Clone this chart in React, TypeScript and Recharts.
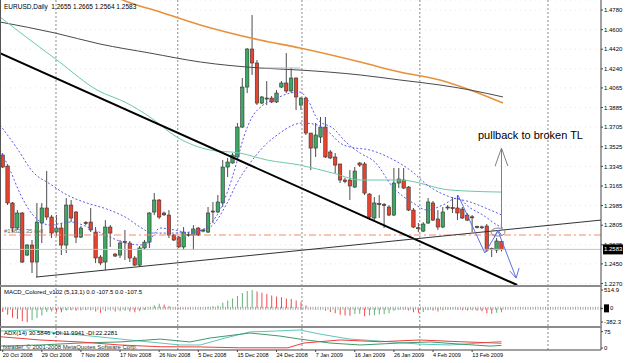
import React from 'react';
import { ComposedChart, Bar, Line, XAxis, YAxis, CartesianGrid, ReferenceLine, ReferenceDot, Cell } from 'recharts';

const FONT = '"Liberation Sans", Arial, sans-serif';

// daily candles, index 0 = 20 Oct 2008
const opens = [1.3449, 1.3348, 1.3009, 1.2779, 1.2917, 1.2531, 1.2623, 1.2467, 1.2825, 1.2963, 1.2880, 1.2742, 1.2779, 1.2623, 1.2990, 1.2926, 1.2696, 1.2830, 1.2834, 1.2742, 1.2513, 1.2467, 1.2788, 1.2540, 1.2531, 1.2655, 1.2641, 1.2504, 1.2439, 1.2596, 1.2650, 1.2926, 1.3036, 1.2917, 1.2898, 1.2715, 1.2696, 1.2605, 1.2720, 1.2715, 1.2779, 1.2751, 1.2742, 1.2935, 1.2926, 1.3009, 1.3339, 1.3376, 1.3431, 1.3706, 1.4073, 1.4422, 1.4294, 1.3926, 1.3963, 1.3972, 1.3936, 1.4073, 1.4110, 1.4037, 1.4156, 1.3908, 1.3972, 1.3651, 1.3513, 1.3614, 1.3706, 1.3477, 1.3431, 1.3367, 1.3220, 1.3220, 1.3155, 1.3376, 1.3367, 1.3091, 1.2871, 1.3005, 1.2995, 1.2972, 1.2898, 1.3192, 1.3220, 1.3155, 1.2944, 1.2782, 1.2751, 1.2825, 1.3009, 1.2862, 1.2788, 1.2972, 1.2966, 1.2963, 1.2953, 1.2898, 1.2882, 1.2792, 1.2790, 1.2797, 1.2580, 1.2577, 1.2655];
const highs = [1.3467, 1.3367, 1.3018, 1.2944, 1.2926, 1.2632, 1.2669, 1.3009, 1.3009, 1.3302, 1.2898, 1.2898, 1.2825, 1.3054, 1.3036, 1.2935, 1.2797, 1.2843, 1.2963, 1.2788, 1.2531, 1.2852, 1.2806, 1.2549, 1.2669, 1.2761, 1.2660, 1.2522, 1.2614, 1.2669, 1.2925, 1.3100, 1.3045, 1.2930, 1.2944, 1.2724, 1.2706, 1.2788, 1.2742, 1.2806, 1.2788, 1.2770, 1.2972, 1.3018, 1.3082, 1.3403, 1.3422, 1.3467, 1.3743, 1.4156, 1.4431, 1.4734, 1.4321, 1.3991, 1.4128, 1.3991, 1.4046, 1.4128, 1.4385, 1.4248, 1.4160, 1.3982, 1.3982, 1.3651, 1.3743, 1.3798, 1.3798, 1.3495, 1.3467, 1.3367, 1.3240, 1.3311, 1.3339, 1.3385, 1.3385, 1.3100, 1.3063, 1.3082, 1.3009, 1.2990, 1.3330, 1.3330, 1.3330, 1.3165, 1.2963, 1.2825, 1.2834, 1.3054, 1.3027, 1.2944, 1.2972, 1.2990, 1.3063, 1.3082, 1.2972, 1.2917, 1.2898, 1.2800, 1.2800, 1.2816, 1.2600, 1.2688, 1.2665];
const lows = [1.3330, 1.2990, 1.2742, 1.2761, 1.2458, 1.2522, 1.2366, 1.2329, 1.2641, 1.2852, 1.2687, 1.2706, 1.2531, 1.2549, 1.2834, 1.2641, 1.2687, 1.2806, 1.2742, 1.2458, 1.2439, 1.2393, 1.2605, 1.2513, 1.2504, 1.2485, 1.2467, 1.2430, 1.2430, 1.2577, 1.2596, 1.2898, 1.2862, 1.2890, 1.2687, 1.2660, 1.2596, 1.2577, 1.2700, 1.2577, 1.2706, 1.2740, 1.2733, 1.2825, 1.2917, 1.2972, 1.3247, 1.3370, 1.3425, 1.3697, 1.4018, 1.4184, 1.3908, 1.3917, 1.3908, 1.3926, 1.3926, 1.4064, 1.4018, 1.4018, 1.3862, 1.3862, 1.3633, 1.3311, 1.3431, 1.3559, 1.3422, 1.3413, 1.3284, 1.3192, 1.3190, 1.3036, 1.3146, 1.3340, 1.3082, 1.2852, 1.2852, 1.2871, 1.2779, 1.2889, 1.2889, 1.3146, 1.3137, 1.2935, 1.2779, 1.2742, 1.2742, 1.2816, 1.2843, 1.2761, 1.2779, 1.2944, 1.2917, 1.2852, 1.2862, 1.2843, 1.2742, 1.2775, 1.2770, 1.2559, 1.2513, 1.2549, 1.2564];
const closes = [1.3339, 1.3009, 1.2779, 1.2917, 1.2467, 1.2623, 1.2467, 1.2834, 1.2963, 1.2880, 1.2733, 1.2779, 1.2623, 1.2990, 1.2871, 1.2696, 1.2779, 1.2820, 1.2761, 1.2504, 1.2458, 1.2788, 1.2733, 1.2522, 1.2641, 1.2645, 1.2504, 1.2439, 1.2596, 1.2650, 1.2917, 1.3036, 1.2880, 1.2900, 1.2715, 1.2669, 1.2605, 1.2742, 1.2712, 1.2770, 1.2715, 1.2761, 1.2917, 1.2926, 1.3018, 1.3339, 1.3385, 1.3449, 1.3706, 1.4073, 1.4422, 1.4294, 1.3926, 1.3982, 1.3972, 1.3936, 1.4018, 1.4110, 1.4037, 1.4156, 1.3982, 1.3972, 1.3651, 1.3513, 1.3633, 1.3706, 1.3431, 1.3422, 1.3357, 1.3220, 1.3205, 1.3165, 1.3302, 1.3357, 1.3100, 1.2880, 1.3009, 1.2995, 1.2990, 1.2898, 1.3192, 1.3229, 1.3146, 1.2944, 1.2788, 1.2776, 1.2816, 1.3018, 1.2852, 1.2788, 1.2926, 1.2963, 1.2960, 1.2917, 1.2871, 1.2852, 1.2878, 1.2785, 1.2786, 1.2577, 1.2590, 1.2660, 1.2583];

// MACD_Colored histogram, one value per candle
const macd = [-100, -180, -260, -300, -360, -390, -330, -270, -200, -100, -90, -95, -110, -60, -50, -70, -60, -50, -55, -90, -120, -80, -60, -90, -80, -70, -90, -110, -80, -40, 20, 90, 130, 110, 60, 20, -20, -10, -15, 0, -5, 0, 40, 60, 80, 160, 220, 280, 350, 430, 490, 515, 470, 440, 400, 360, 330, 310, 280, 260, 220, 180, 80, -10, -30, -30, -70, -100, -140, -180, -200, -210, -160, -150, -220, -200, -190, -170, -160, -140, -70, -40, -30, -60, -110, -120, -100, -50, -60, -90, -50, -30, -20, -30, -50, -60, -50, -70, -80, -140, -150, -120, -107.5];

// indicator lines read as [bar index, value]
const ma200 = [[19.9, 1.4964], [25.6, 1.4854], [32.2, 1.4762], [40.4, 1.4643], [52.6, 1.4505], [60.8, 1.4431], [73.1, 1.4303], [81.2, 1.4211], [89.4, 1.4138], [95.6, 1.4046], [102.3, 1.3926]];
const ma100 = [[-0.55, 1.4670], [10.7, 1.4569], [19.9, 1.4468], [30.1, 1.4385], [40.4, 1.4303], [52.6, 1.4248], [60.8, 1.4229], [73.1, 1.4184], [81.2, 1.4138], [89.4, 1.4092], [95.6, 1.4046], [102.3, 1.3982]];
const ma50 = [[-0.55, 1.4716], [5.6, 1.4505], [11.1, 1.4321], [19.3, 1.4046], [25.4, 1.3926], [30.1, 1.3798], [35.6, 1.3614], [42.4, 1.3495], [48.5, 1.3467], [54.1, 1.3403], [60.8, 1.3357], [67.5, 1.3284], [73.1, 1.3220], [81.2, 1.3220], [91.5, 1.3128], [102.1, 1.3109]];
const maSlow = [[-0.55, 1.3725], [2.9, 1.3513], [6.2, 1.3293], [9.7, 1.3183], [13.2, 1.3082], [17.2, 1.3009], [21.3, 1.2953], [25.4, 1.2871], [28.1, 1.2788], [30.7, 1.2733], [34.8, 1.2733], [38.3, 1.2742], [42.4, 1.2788], [45.9, 1.3009], [47.9, 1.3192], [50.6, 1.3376], [54.1, 1.3559], [56.7, 1.3651], [59.4, 1.3725], [61.4, 1.3743], [64.3, 1.3725], [66.9, 1.3651], [69.0, 1.3559], [71.0, 1.3523], [75.1, 1.3495], [79.2, 1.3422], [83.3, 1.3311], [87.4, 1.3155], [91.5, 1.3064], [95.6, 1.3018], [99.7, 1.2944], [102.1, 1.2898]];
const maFast = [[-0.55, 1.3495], [1.5, 1.3311], [3.5, 1.3100], [6.2, 1.2898], [9.7, 1.2807], [13.8, 1.2834], [17.9, 1.2779], [21.9, 1.2696], [26.0, 1.2632], [29.1, 1.2623], [32.2, 1.2779], [35.2, 1.2761], [38.3, 1.2733], [41.4, 1.2779], [44.4, 1.2944], [46.1, 1.3128], [47.7, 1.3357], [49.3, 1.3614], [51.0, 1.3798], [53.0, 1.3899], [55.7, 1.3963], [58.8, 1.4018], [60.8, 1.4027], [62.4, 1.3954], [64.5, 1.3770], [67.5, 1.3697], [70.4, 1.3559], [73.1, 1.3467], [76.1, 1.3385], [79.8, 1.3155], [83.9, 1.3009], [86.8, 1.2944], [90.0, 1.2990], [92.9, 1.3054], [95.6, 1.2963], [98.2, 1.2898], [101.1, 1.2807], [102.3, 1.2779]];

// drawn objects
const trendDown = [[-0.55, 1.4385], [105.2, 1.2256]];
const trendUp = [[6.8, 1.2329], [122.35, 1.2852]];
const zigzag = [[93.1, 1.3082], [98.6, 1.2550], [101.3, 1.2751], [105.0, 1.2320]];
const zigHeadEnd = [[103.7, 1.2384], [105.0, 1.2320], [105.6, 1.2412]];
const zigHeadMid = [[100.5, 1.2696], [101.3, 1.2761], [102.1, 1.2706]];
const upArrow = [[102.0, 1.2779], [102.0, 1.3513]];
const upHead = [[100.7, 1.3348], [102.0, 1.3513], [103.3, 1.3348]];
const grayHoriz = [[53.5, 1.4248], [60.8, 1.4248]];

// ADX(14)
const adx = [[-0.55, 78], [5.6, 83], [11.7, 69], [19.9, 51], [28.1, 32], [36.3, 14], [40.4, 14], [45.5, 46], [50.6, 74], [55.7, 78], [60.8, 83], [64.9, 64], [71.0, 41], [77.2, 32], [85.3, 18], [91.5, 14], [97.6, 23], [102.0, 30.58]];
const plusDI = [[-0.55, 9], [7.6, 14], [15.8, 23], [24.0, 28], [32.2, 41], [38.3, 28], [42.4, 46], [50.6, 69], [56.7, 55], [60.8, 41], [66.9, 23], [73.1, 14], [81.2, 23], [87.4, 28], [93.5, 18], [99.7, 9], [102.0, 11.99]];
const minusDI = [[-0.55, 52], [7.6, 37], [15.8, 28], [24.0, 14], [32.2, 6], [40.4, 5], [48.5, 1], [58.3, 1], [61.6, 23], [69.0, 37], [77.2, 29], [85.3, 37], [93.5, 29], [102.0, 22.23]];

const priceTicks = [1.478, 1.46, 1.442, 1.424, 1.4065, 1.3885, 1.3705, 1.3525, 1.3345, 1.3165, 1.2985, 1.2805, 1.2625, 1.245, 1.227];
const dateTicks = [0, 8, 16, 24, 32, 40, 48, 56, 64, 72, 80, 88, 96];
const dateLabels = ['20 Oct 2008', '29 Oct 2008', '7 Nov 2008', '17 Nov 2008', '26 Nov 2008', '5 Dec 2008', '15 Dec 2008', '24 Dec 2008', '7 Jan 2009', '16 Jan 2009', '26 Jan 2009', '4 Feb 2009', '13 Feb 2009'];
const gridBars = [10.9, 35.8, 61.2, 85.3, 111.5];

const X_DOMAIN: [number, number] = [-0.55, 122.35];
const W = 625;

const candles = opens.map((o, i) => ({ i, o, h: highs[i], l: lows[i], c: closes[i] }));
const macdData = macd.map((v, i) => ({ i, v }));
const pts = (arr: number[][]) => arr.map(([i, v]) => ({ i, v }));

const Candle = (props: any) => {
  const { x, y, width, height, payload } = props;
  if (!payload) return null;
  const { o, h, l, c } = payload;
  const top = Math.min(y, y + height);
  const span = Math.abs(height);
  const cx = x + width / 2;
  const k = h - l > 0 ? span / (h - l) : 0;
  const bt = top + (h - Math.max(o, c)) * k;
  const bb = top + (h - Math.min(o, c)) * k;
  const up = c >= o;
  return (
    <g>
      <line x1={cx} x2={cx} y1={top} y2={top + span} stroke="#4d4d4d" strokeWidth={1} />
      <rect x={cx - 1.7} y={bt} width={3.4} height={Math.max(1, bb - bt)} fill={up ? '#3ea862' : '#e8432e'} stroke="#333" strokeWidth={0.6} />
    </g>
  );
};

const DateTick = ({ x, y, payload }: any) => {
  const k = dateTicks.indexOf(payload.value);
  return (
    <text x={x} y={y + 4} fontSize={5.5} fontFamily={FONT} fill="#000" textAnchor="start">
      {dateLabels[k]}
    </text>
  );
};

const MacdTick = ({ x, y, payload }: any) => {
  const v = payload.value;
  return (
    <g>
      {v === 0 && <rect x={x} y={y - 4} width={5} height={8} fill="#000" />}
      <text x={v === 0 ? x + 6 : x} y={y} dy="0.35em" fontSize={6} fontFamily={FONT} fill="#000">
        {v === 0 ? '0' : v.toFixed(1)}
      </text>
    </g>
  );
};

const ellipse = ({ cx, cy }: any) => (
  <ellipse cx={cx} cy={cy} rx={7} ry={4} fill="none" stroke="#888" strokeWidth={1} />
);

const bidLabel = ({ viewBox }: any) => (
  <g>
    <rect x={viewBox.x + viewBox.width + 2} y={viewBox.y - 5} width={20} height={10} fill="#000" />
    <text x={viewBox.x + viewBox.width + 3} y={viewBox.y} dy="0.35em" fontSize={6} fontFamily={FONT} fill="#fff">1.2583</text>
  </g>
);

const axisTick = { fontSize: 6, fill: '#000', fontFamily: FONT };

const line = (data: number[][], color: string, width = 1, dash?: string, type: any = 'linear') => (
  <Line data={pts(data)} dataKey="v" type={type} stroke={color} strokeWidth={width} strokeDasharray={dash} dot={false} activeDot={false} isAnimationActive={false} />
);

const txt = (extra: React.CSSProperties): React.CSSProperties => ({
  position: 'absolute', fontFamily: FONT, fontSize: 6, lineHeight: 1, color: '#000', whiteSpace: 'nowrap', ...extra,
});

export default function App() {
  return (
    <div style={{ position: 'fixed', left: 0, top: 0, width: W, height: 363, background: '#fff', overflow: 'hidden' }}>
      <div style={{ position: 'absolute', left: 0, top: 0 }}>
        <ComposedChart width={W} height={286} data={candles} margin={{ top: 0, right: 0, bottom: 0, left: 0 }}>
          <CartesianGrid vertical={false} stroke="#e4e4e4" strokeDasharray="1 4" />
          <XAxis type="number" dataKey="i" domain={X_DOMAIN} allowDataOverflow hide />
          <YAxis orientation="right" width={24} domain={[1.2247, 1.4872]} allowDataOverflow ticks={priceTicks} interval={0}
            tick={axisTick} tickFormatter={(v: number) => v.toFixed(4)} tickSize={2} tickMargin={1}
            axisLine={{ stroke: '#444' }} tickLine={{ stroke: '#444' }} />
          {gridBars.map((g) => <ReferenceLine key={g} x={g} stroke="#8a8a8a" strokeDasharray="2 2" />)}
          <ReferenceLine y={1.2715} stroke="#f08a6c" strokeDasharray="7 3 2 3" strokeWidth={1} />
          <ReferenceLine y={1.2583} stroke="#c4c4c4" label={bidLabel} />
          {line(ma200, '#e8913c', 1.6, undefined, 'monotone')}
          {line(ma100, '#4a4a4a', 1, undefined, 'monotone')}
          {line(ma50, '#6cc9a6', 1, undefined, 'monotone')}
          {line(maSlow, '#5b5bea', 1, '2 2', 'monotone')}
          {line(maFast, '#5b5bea', 1, '2 2', 'monotone')}
          {line(grayHoriz, '#b8b8c8', 1)}
          {line(trendDown, '#000', 2)}
          {line(trendUp, '#333', 1)}
          <Bar dataKey={(d: any) => [d.l, d.h]} barSize={4} shape={Candle} isAnimationActive={false} />
          {line(zigzag, '#5d70e6', 1)}
          {line(zigHeadEnd, '#5d70e6', 1)}
          {line(zigHeadMid, '#5d70e6', 1)}
          {line(upArrow, '#808080', 1)}
          {line(upHead, '#808080', 1)}
          <ReferenceDot x={101.3} y={1.2742} r={7} shape={ellipse} />
        </ComposedChart>
      </div>

      <div style={{ position: 'absolute', left: 0, top: 287 }}>
        <ComposedChart width={W} height={39} data={macdData} margin={{ top: 0, right: 0, bottom: 0, left: 0 }}>
          <XAxis type="number" dataKey="i" domain={X_DOMAIN} allowDataOverflow hide />
          <YAxis orientation="right" width={24} domain={[-494, 599]} allowDataOverflow ticks={[514.9, 0, -382.3]} interval={0}
            tick={MacdTick} tickSize={2} tickMargin={1} axisLine={{ stroke: '#444' }} tickLine={{ stroke: '#444' }} />
          {gridBars.map((g) => <ReferenceLine key={g} x={g} stroke="#8a8a8a" strokeDasharray="2 2" />)}
          <ReferenceLine y={0} stroke="#a8a8a8" strokeWidth={3} strokeDasharray="1 1.5" />
          <Bar dataKey="v" barSize={1} isAnimationActive={false}>
            {macdData.map((d, k) => (
              <Cell key={k} fill={k > 0 && d.v > macd[k - 1] ? '#5fb37a' : '#f24a4a'} />
            ))}
          </Bar>
        </ComposedChart>
      </div>

      <div style={{ position: 'absolute', left: 0, top: 328 }}>
        <ComposedChart width={W} height={35} margin={{ top: 0, right: 0, bottom: 0, left: 0 }}>
          <XAxis type="number" dataKey="i" domain={X_DOMAIN} allowDataOverflow ticks={dateTicks} interval={0}
            tick={DateTick} height={13} tickSize={2} tickMargin={1} axisLine={{ stroke: '#444' }} tickLine={{ stroke: '#444' }} />
          <YAxis orientation="right" width={24} domain={[-9, 92]} allowDataOverflow ticks={[75, 0]} interval={0}
            tick={axisTick} tickSize={2} tickMargin={1} axisLine={{ stroke: '#444' }} tickLine={{ stroke: '#444' }} />
          {gridBars.map((g) => <ReferenceLine key={g} x={g} stroke="#8a8a8a" strokeDasharray="2 2" />)}
          {line(adx, '#5cc7b8', 1)}
          {line(plusDI, '#3f9a6c', 1)}
          {line(minusDI, '#f03c3c', 1)}
        </ComposedChart>
      </div>

      <div style={{ position: 'absolute', left: 0, top: 0, width: 1, height: 351, background: '#555' }} />
      <div style={{ position: 'absolute', left: 0, top: 285, width: 602, height: 2, background: '#8c8c8c' }} />
      <div style={{ position: 'absolute', left: 0, top: 326, width: 602, height: 2, background: '#8c8c8c' }} />

      <div style={txt({ left: 4, top: 4, fontSize: 6.5 })}>EURUSD,Daily&nbsp;&nbsp;1.2655 1.2665 1.2564 1.2583</div>
      <div style={txt({ left: 4, top: 228, color: '#666' })}>#19823 35 sell</div>
      <div style={txt({ left: 478, top: 130, fontSize: 11 })}>pullback to broken TL</div>
      <div style={txt({ left: 4, top: 289 })}>MACD_Colored_v102 (5,13,1) 0.0 -107.5 0.0 -107.5</div>
      <div style={txt({ left: 4, top: 330 })}>ADX(14) 30.5846 +DI:11.9941 -DI:22.2281</div>
      <div style={txt({ left: 3, top: 344, color: '#333' })}>fxtrader, © 2001-2008 MetaQuotes Software Corp.</div>
    </div>
  );
}
